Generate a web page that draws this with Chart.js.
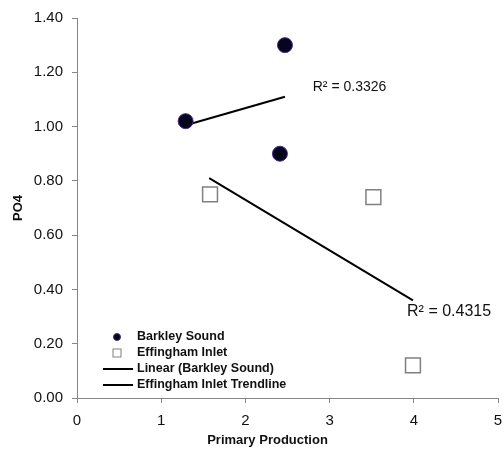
<!DOCTYPE html>
<html>
<head>
<meta charset="utf-8">
<script src="https://cdn.jsdelivr.net/npm/chart.js@4.4.0/dist/chart.umd.min.js"></script>
<style>
  html, body { margin: 0; padding: 0; background: #fff; }
  #wrap { width: 504px; height: 452px; }
</style>
</head>
<body>
<div id="wrap"><canvas id="chart" width="504" height="452"></canvas></div>
<script>
// Donnees
const barkleyX = [1.29, 2.47, 2.41];
const barkleyY = [1.02, 1.30, 0.90];
const effinghamX = [1.58, 3.52, 3.99];
const effinghamY = [0.75, 0.74, 0.12];
const barkleyTrendX = [1.29, 2.47];
const barkleyTrendY = [1.005, 1.11];
const effinghamTrendX = [1.57, 3.99];
const effinghamTrendY = [0.81, 0.36];
const seriesLabels = ['Barkley Sound', 'Effingham Inlet', 'Linear (Barkley Sound)', 'Effingham Inlet Trendline'];
const r2Labels = ['R² = 0.3326', 'R² = 0.4315'];
const r2AnchorX = [2.80, 3.92];
const r2AnchorY = [1.147, 0.318];
const yTicks = [0, 0.2, 0.4, 0.6, 0.8, 1.0, 1.2, 1.4];
const xTicks = [0, 1, 2, 3, 4, 5];

const FONT = "'Liberation Sans', Arial, sans-serif";
const AXIS_GREY = '#868686';

const pts = (xs, ys) => xs.map((x, i) => ({ x: x, y: ys[i] }));

// legende dans la zone du graphe + etiquettes R2 + titre X
const overlayPlugin = {
    id: 'overlay',
    afterDraw(chart) {
        const ctx = chart.ctx;
        const ca = chart.chartArea;
        const xs = chart.scales.x, ys = chart.scales.y;
        ctx.save();

        // R2
        ctx.fillStyle = '#111';
        ctx.textBaseline = 'middle';
        ctx.textAlign = 'left';
        const r2Sizes = [14, 16];
        r2Labels.forEach((t, i) => {
            ctx.font = r2Sizes[i] + 'px ' + FONT;
            ctx.fillText(t, xs.getPixelForValue(r2AnchorX[i]), ys.getPixelForValue(r2AnchorY[i]));
        });

        // titre axe X (decale a gauche comme dans Excel)
        ctx.font = 'bold 13px ' + FONT;
        ctx.textAlign = 'center';
        ctx.fillText('Primary Production', (ca.left + ca.right) / 2 - 20, chart.height - 12);
        ctx.textAlign = 'left';

        // legende
        const lx = ca.left + 40, tx = ca.left + 60;
        let ly = ca.bottom - 61;
        ctx.font = 'bold 12.5px ' + FONT;
        seriesLabels.forEach((lab, i) => {
            if (i === 0) {
                ctx.beginPath();
                ctx.arc(lx, ly, 3.5, 0, Math.PI * 2);
                ctx.fillStyle = '#05051e';
                ctx.fill();
                ctx.strokeStyle = '#4a2a8a';
                ctx.lineWidth = 1;
                ctx.stroke();
            } else if (i === 1) {
                ctx.fillStyle = '#fff';
                ctx.fillRect(lx - 4, ly - 4, 8, 8);
                ctx.strokeStyle = '#808080';
                ctx.lineWidth = 1;
                ctx.strokeRect(lx - 4, ly - 4, 8, 8);
            } else {
                ctx.beginPath();
                ctx.moveTo(lx - 14, ly);
                ctx.lineTo(lx + 16, ly);
                ctx.strokeStyle = '#000';
                ctx.lineWidth = 2;
                ctx.stroke();
            }
            ctx.fillStyle = '#111';
            ctx.fillText(lab, tx, ly);
            ly += 16;
        });
        ctx.restore();
    }
};

new Chart(document.getElementById('chart'), {
    type: 'scatter',
    data: {
        datasets: [
            {
                label: seriesLabels[0],
                data: pts(barkleyX, barkleyY),
                pointStyle: 'circle',
                pointRadius: 7.5,
                backgroundColor: '#05051e',
                borderColor: '#4a2a8a',
                borderWidth: 1
            },
            {
                label: seriesLabels[1],
                data: pts(effinghamX, effinghamY),
                pointStyle: 'rect',
                pointRadius: 10.5,
                backgroundColor: '#fff',
                borderColor: '#808080',
                borderWidth: 1.5
            },
            {
                label: seriesLabels[2],
                type: 'line',
                data: pts(barkleyTrendX, barkleyTrendY),
                borderColor: '#000',
                borderWidth: 2,
                pointRadius: 0,
                fill: false
            },
            {
                label: seriesLabels[3],
                type: 'line',
                data: pts(effinghamTrendX, effinghamTrendY),
                borderColor: '#000',
                borderWidth: 2,
                pointRadius: 0,
                fill: false
            }
        ]
    },
    options: {
        animation: false,
        responsive: false,
        layout: { autoPadding: false, padding: { top: 18, right: 6, left: 0, bottom: 0 } },
        plugins: { legend: { display: false }, tooltip: { enabled: false } },
        scales: {
            x: {
                type: 'linear', min: 0, max: 5,
                afterBuildTicks: s => { s.ticks = xTicks.map(v => ({ value: v })); },
                afterFit: s => { s.height = 54; s.paddingLeft = 0; s.paddingRight = 0; },
                grid: { drawOnChartArea: false, drawTicks: true, tickLength: 5, color: AXIS_GREY },
                border: { color: AXIS_GREY, width: 1 },
                ticks: { color: '#111', padding: 9, maxRotation: 0, font: { family: FONT, size: 15 }, callback: v => String(v) },
                title: { display: false }
            },
            y: {
                type: 'linear', min: 0, max: 1.4,
                afterBuildTicks: s => { s.ticks = yTicks.map(v => ({ value: v })); },
                afterFit: s => { s.width = 77; s.paddingTop = 0; s.paddingBottom = 0; },
                grid: { drawOnChartArea: false, drawTicks: true, tickLength: 5, color: AXIS_GREY },
                border: { color: AXIS_GREY, width: 1 },
                ticks: { color: '#111', padding: 9, font: { family: FONT, size: 15 }, callback: v => Number(v).toFixed(2) },
                title: { display: true, text: 'PO4', color: '#111', padding: { top: 11, bottom: 0 }, font: { family: FONT, size: 13, weight: 'bold' } }
            }
        }
    },
    plugins: [overlayPlugin]
});
</script>
</body>
</html>
